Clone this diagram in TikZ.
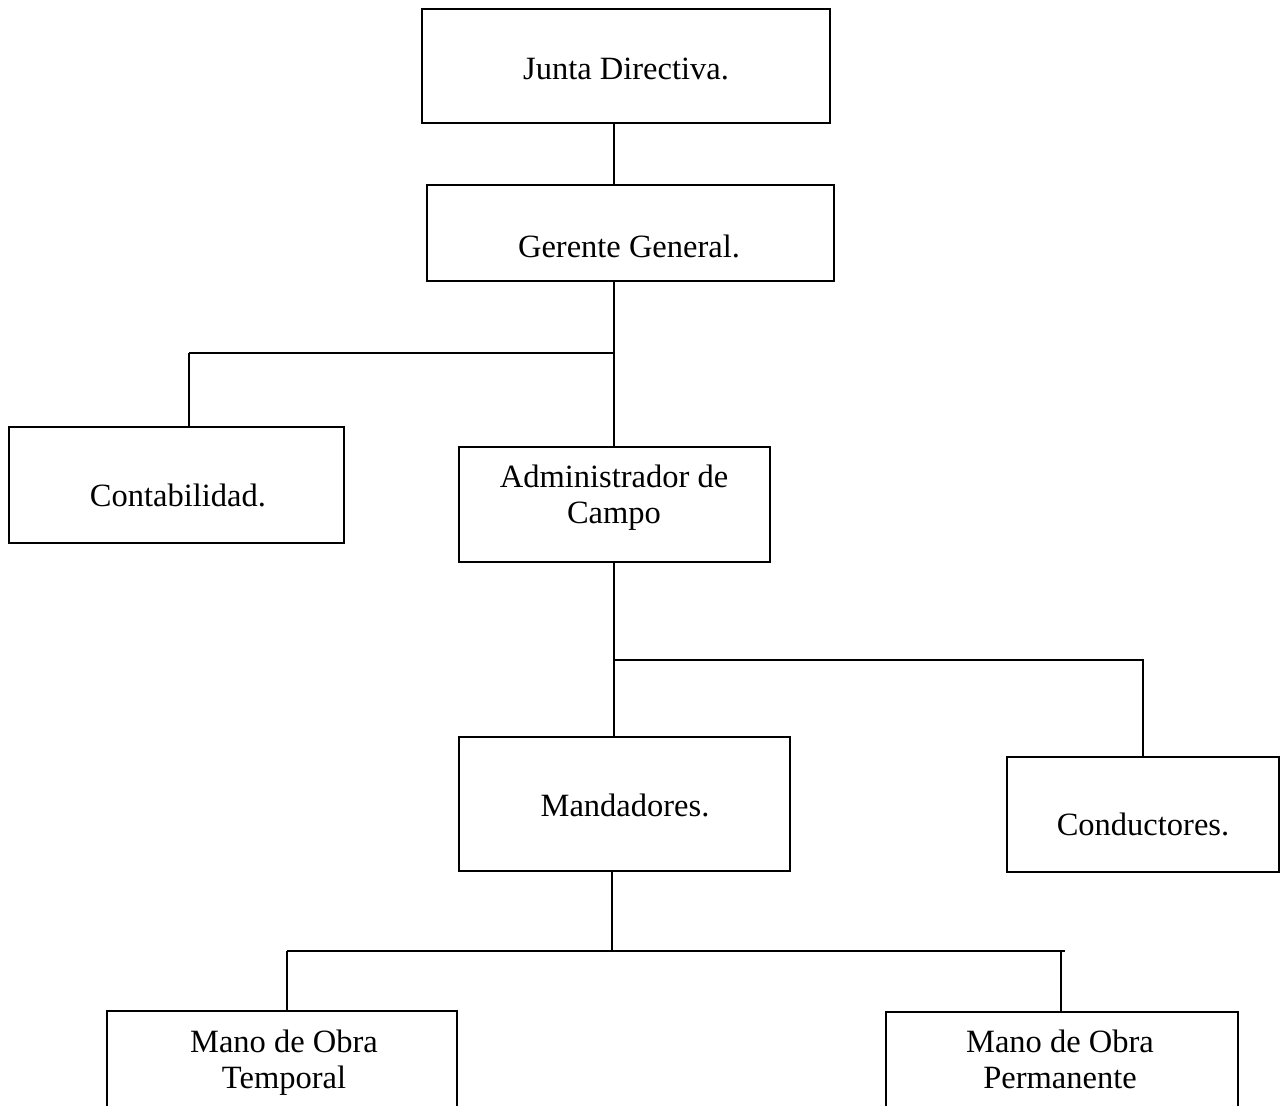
\documentclass[tikz,border=0pt]{standalone}
\usepackage{fontspec}
\setmainfont{Liberation Serif}
\begin{document}
\begin{tikzpicture}[x=1pt,y=-1pt,
  box/.style={draw=black, line width=1.8pt, rectangle, inner sep=0pt, outer sep=0pt},
  lbl/.style={font=\fontsize{32.5}{36}\selectfont, align=center, inner sep=0pt, text=black},
  conn/.style={draw=black, line width=1.4pt},
  thickconn/.style={draw=black, line width=2.6pt}]
\useasboundingbox (0,0) rectangle (1281,1105);
\clip (0,0) rectangle (1281,1105);
\fill[white] (0,0) rectangle (1281,1105);

% boxes
\node[box, minimum width=408pt, minimum height=114pt] (jd) at (626,66) {};
\node[box, minimum width=407pt, minimum height=96pt] (gg) at (630.5,233) {};
\node[box, minimum width=335pt, minimum height=116pt] (co) at (176.5,485) {};
\node[box, minimum width=311pt, minimum height=115pt] (ad) at (614.5,504.5) {};
\node[box, minimum width=331pt, minimum height=134pt] (ma) at (624.5,804) {};
\node[box, minimum width=272pt, minimum height=115pt] (cd) at (1143,814.5) {};
\node[box, minimum width=350pt, minimum height=119pt] (mt) at (282,1070.5) {};
\node[box, minimum width=352pt, minimum height=118pt] (mp) at (1062,1071) {};

% texts
\node[lbl] (tjd) at (626,72.8) {\strut Junta Directiva.};
\node[lbl] (tgg) at (629,249.8) {\strut Gerente General.};
\node[lbl] (tco) at (178,498.8) {\strut Contabilidad.};
\node[lbl] (tad) at (614,497.8) {\strut Administrador de\\\strut Campo};
\node[lbl] (tma) at (625,808.8) {\strut Mandadores.};
\node[lbl] (tcd) at (1143,827.8) {\strut Conductores.};
\node[lbl] (tmt) at (284,1062.8) {\strut Mano de Obra\\\strut Temporal};
\node[lbl] (tmp) at (1060,1062.8) {\strut Mano de Obra\\\strut Permanente};

% junction coordinates
\coordinate (s1) at (614,353);
\coordinate (c1) at (189,353);
\coordinate (s2) at (614,660);
\coordinate (s3) at (612,951);
\coordinate (b1) at (287,951);
\coordinate (b2) at (1061,951);
\coordinate (b3) at (1065,951);

% connectors
\draw[conn] (jd.south -| s1) -- (gg.north -| s1);
\draw[conn] (gg.south -| s1) -- (ad.north -| s1);
\draw[conn] (s1) -- (c1);
\draw[thickconn] (c1) -- (c1 |- co.north);
\draw[thickconn] (ad.south -| s2) -- (ma.north -| s2);
\draw[thickconn] (s2) -- (1000,660);
\draw[conn] (s2) -| (cd.north);
\draw[conn] (ma.south -| s3) -- (s3);
\draw[conn] (b1) -- (b3);
\draw[conn] (b1) -- (b1 |- mt.north);
\draw[conn] (b2) -- (b2 |- mp.north);
\end{tikzpicture}
\end{document}
